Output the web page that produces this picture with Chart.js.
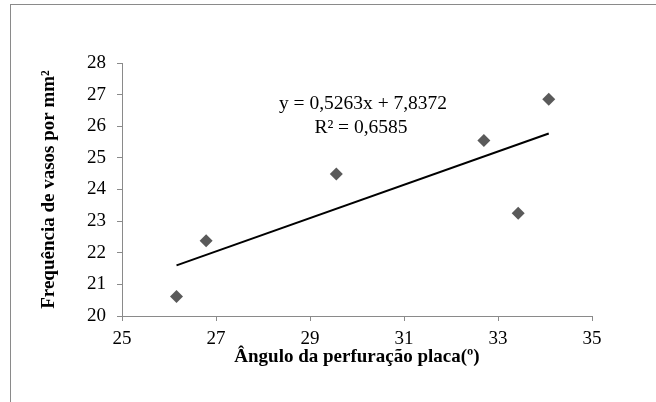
<!DOCTYPE html>
<html lang="pt">
<head>
    <meta charset="UTF-8">
    <title>Frequência de vasos x Ângulo da perfuração</title>
    <script src="https://cdn.jsdelivr.net/npm/chart.js"></script>
    <style>
        html, body { margin: 0; padding: 0; background: #fff; }
        #wrap { position: relative; width: 656px; height: 402px; overflow: hidden; }
        #frame { position: absolute; left: 10px; top: 4px; width: 700px; height: 500px; border: 1px solid #8a8a8a; pointer-events: none; }
        #chart { position: absolute; left: 0; top: 0; }
    </style>
</head>
<body>
    <div id="wrap">
        <div id="frame"></div>
        <canvas id="chart" width="656" height="402"></canvas>
    </div>

    <script>
        // pontos observados
        const anguloX = [26.16, 26.79, 29.56, 32.70, 33.43, 34.08];
        const frequenciaY = [20.62, 22.38, 24.49, 25.55, 23.25, 26.85];

        // linha de tendência (extremos)
        const trendX = [26.16, 34.08];
        const trendY = [21.60, 25.77];

        const equationLines = ['y = 0,5263x + 7,8372', 'R² = 0,6585'];

        const serif = '"Liberation Serif", "Times New Roman", serif';

        const equationPlugin = {
            id: 'equation',
            afterDatasetsDraw(chart) {
                const ctx = chart.ctx;
                ctx.save();
                ctx.font = '19.5px ' + serif;
                ctx.fillStyle = '#000';
                ctx.textAlign = 'center';
                ctx.textBaseline = 'middle';
                ctx.fillText(equationLines[0], 363, 104);
                ctx.fillText(equationLines[1], 361, 128);
                ctx.restore();
            }
        };

        new Chart(document.getElementById('chart'), {
            type: 'scatter',
            data: {
                datasets: [
                    {
                        label: 'Tendência',
                        type: 'line',
                        data: trendX.map((x, i) => ({ x: x, y: trendY[i] })),
                        borderColor: '#000',
                        borderWidth: 2,
                        pointRadius: 0,
                        fill: false
                    },
                    {
                        label: 'Frequência',
                        data: anguloX.map((x, i) => ({ x: x, y: frequenciaY[i] })),
                        pointStyle: 'rectRot',
                        pointRadius: 6.5,
                        pointBackgroundColor: '#5a5a5a',
                        pointBorderWidth: 0
                    }
                ]
            },
            options: {
                responsive: false,
                animation: false,
                layout: { padding: { left: 30, top: 63, right: 64, bottom: 20 } },
                plugins: {
                    legend: { display: false },
                    tooltip: { enabled: false }
                },
                scales: {
                    x: {
                        type: 'linear',
                        min: 25,
                        max: 35,
                        ticks: { stepSize: 2, padding: 7, color: '#000', font: { family: serif, size: 19 } },
                        grid: { drawOnChartArea: false, drawTicks: true, tickLength: 5, color: '#8a8a8a' },
                        border: { color: '#8a8a8a', width: 1 },
                        title: {
                            display: true,
                            text: 'Ângulo da perfuração placa(º)',
                            color: '#000',
                            font: { family: serif, size: 19, weight: 'bold' },
                            padding: { top: 0, bottom: 14 }
                        },
                        afterFit(scale) { scale.height = 66; }
                    },
                    y: {
                        min: 20,
                        max: 28,
                        ticks: { stepSize: 1, padding: 11, color: '#000', font: { family: serif, size: 19 } },
                        grid: { drawOnChartArea: false, drawTicks: true, tickLength: 5, color: '#8a8a8a' },
                        border: { color: '#8a8a8a', width: 1 },
                        title: {
                            display: true,
                            text: 'Frequência de vasos por mm²',
                            color: '#000',
                            font: { family: serif, size: 19, weight: 'bold' },
                            padding: { top: 8, bottom: 0 }
                        },
                        afterFit(scale) { scale.width = 92; }
                    }
                }
            },
            plugins: [equationPlugin]
        });
    </script>
</body>
</html>
